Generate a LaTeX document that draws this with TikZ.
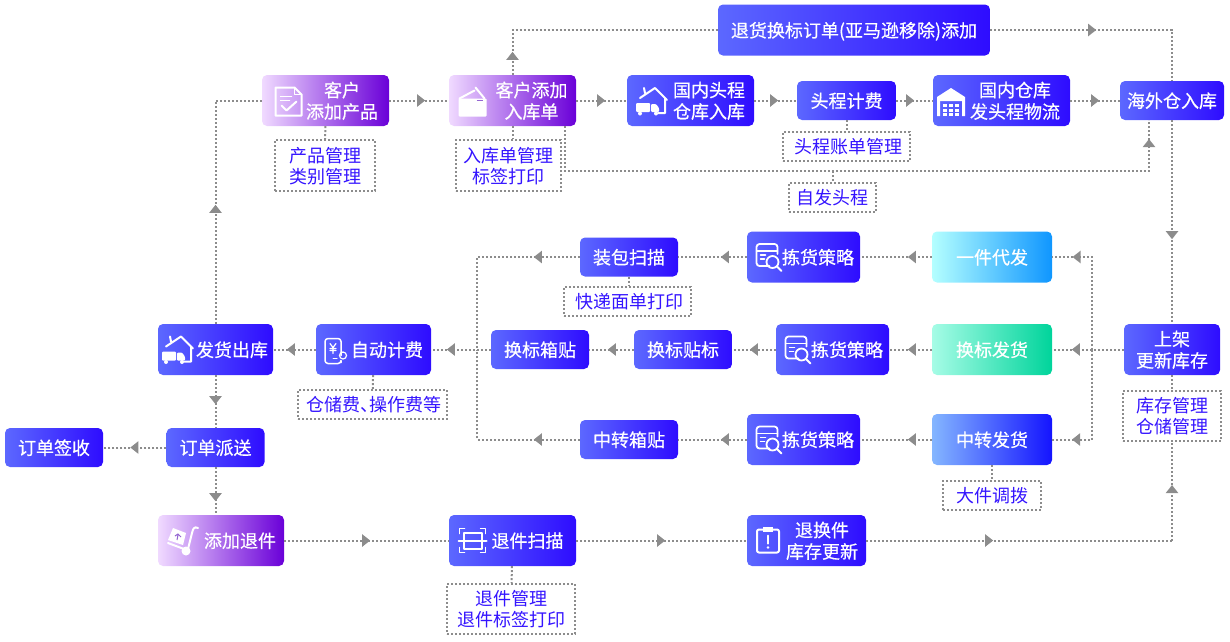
\documentclass[tikz,border=0pt]{standalone}
\usepackage{fontspec}
\setmainfont{Noto Sans CJK SC}
\newfontfamily\medfont[FakeBold=0.5]{Noto Sans CJK SC}
\usetikzlibrary{arrows.meta,decorations.markings}
\definecolor{flowgray}{HTML}{8C8C8C}
\definecolor{noteblue}{HTML}{3414FF}
\newcommand{\padtext}[2]{\hspace*{#1pt}\raisebox{-7pt}[0pt][0pt]{\begin{tabular}{@{}c@{}}#2\end{tabular}}}
\tikzset{
  flowbox/.style={rounded corners=5pt,text=white,inner sep=0pt,minimum height=39pt,font=\fontsize{18}{21}\selectfont\medfont,align=center},
  tallbox/.style={flowbox,minimum height=51pt},
  bluefill/.style={left color={rgb,255:red,92;green,104;blue,255},right color={rgb,255:red,46;green,12;blue,255}},
  purplefill/.style={left color={rgb,255:red,240;green,218;blue,255},right color={rgb,255:red,106;green,0;blue,216}},
  cyanfill/.style={left color={rgb,255:red,180;green,255;blue,255},right color={rgb,255:red,15;green,150;blue,255}},
  greenfill/.style={left color={rgb,255:red,166;green,252;blue,230},right color={rgb,255:red,0;green,212;blue,155}},
  relayfill/.style={left color={rgb,255:red,132;green,182;blue,255},right color={rgb,255:red,20;green,20;blue,255}},
  dots/.style={draw=flowgray,line width=2pt,dash pattern=on 2pt off 2pt},
  notebox/.style={dots,line width=2.4pt,inner sep=0pt,text=noteblue,align=center,font=\fontsize{18}{20}\selectfont},
  flow/.style={dots,postaction={decorate,decoration={markings,mark=at position #1 with {\arrow{Triangle[length=8pt,width=12pt]}}}}},
  iconline/.style={draw=white,line width=1.5pt,line join=round,line cap=round},
  pics/docicon/.style={code={
    \draw[iconline,line width=2pt] (-13,-14) -- (6,-14) -- (13,-7) -- (13,14) -- (-13,14) -- cycle;
    \draw[iconline] (6,-14) -- (6,-7) -- (13,-7);
    \draw[iconline] (-8,-5) -- (3,-5) (-8,-1) -- (1,-1);
    \draw[iconline,line width=2pt] (-7,4) -- (-2,9) -- (8,0);
  }},
  pics/cartonicon/.style={code={
    \fill[white,rounded corners=1pt] (-14,-3) -- (3,-3) -- (14,-3) -- (14,15) -- (-14,15) -- cycle;
    \draw[iconline,line width=2pt] (-13,-3) -- (2,-11) (3,-14) -- (12,-3);
    \draw[blue!40!violet!60,line width=1pt] (4,-1) -- (10,-1);
  }},
  pics/houseicon/.style={code={
    \draw[iconline,line width=2pt] (-11,-3) -- (4,-13) -- (16,-1) (-7,-13) -- (-6,-8) (14,-2) -- (14,12) -- (7,12);
    \fill[white,rounded corners=1pt] (-15,2) rectangle (-1,11);
    \fill[white,rounded corners=1pt] (0,3) -- (5,3) -- (8,7) -- (8,11) -- (0,11) -- cycle;
    \fill[white] (-11,12.5) circle (2pt) (5,12.5) circle (2pt);
  }},
  pics/depoticon/.style={code={
    \fill[white] (-14,-5) -- (0,-14) -- (14,-5) -- (14,-1) -- (-14,-1) -- cycle;
    \fill[white] (-14,-1) rectangle (-11,14) (11,-1) rectangle (14,14);
    \foreach \cx in {-8,-2,4} \foreach \cy in {2,6.5,11} \fill[white] (\cx,\cy) rectangle +(4,3.2);
  }},
  pics/pickicon/.style={code={
    \draw[iconline,rounded corners=3pt,line width=1.8pt] (1,9) -- (-12,9) -- (-12,-13) -- (9,-13) -- (9,-3);
    \draw[iconline] (-12,-6) -- (9,-6) (-8,-2) -- (-3,-2) (-8,2) -- (-4,2);
    \draw[iconline,line width=1.8pt] (4,5) circle (6pt) (9,10) -- (13,14);
  }},
  pics/yenicon/.style={code={
    \draw[iconline,rounded corners=3pt] (7,5) -- (7,-12) -- (-9,-12) -- (-9,13) -- (7,13) -- (7,12);
    \draw[iconline,line width=1pt] (-1,8) -- (3,8);
    \draw[iconline,line width=1.2pt] (-4,-7) -- (-1,-3) -- (2,-7) (-1,-3) -- (-1,3) (-4,-2) -- (2,-2) (-4,0) -- (2,0);
    \draw[iconline,line width=1.2pt] (9,5) circle (3.5pt);
  }},
  pics/trolleyicon/.style={code={
    \fill[white] (-10,-13) -- (3,-8) -- (0,4) -- (-15,-1) -- cycle;
    \draw[blue!40!violet!60,line width=1pt] (-6,-1) -- (-5,-6) (-8,-5) -- (-5,-7) -- (-2,-4);
    \draw[iconline,line width=2pt] (-15,2) -- (1,8);
    \draw[iconline,line width=2pt] (15,-13) .. controls (11,-15) and (10,-12) .. (9,-8) -- (5,8);
    \fill[white] (3,10) circle (4.5pt);
  }},
  pics/scanicon/.style={code={
    \draw[iconline] (-13,-7) -- (-13,-12) -- (-8,-12) (8,-12) -- (13,-12) -- (13,-7) (-13,7) -- (-13,12) -- (-8,12) (8,12) -- (13,12) -- (13,7);
    \draw[iconline,line width=2pt] (-9,-8) rectangle (9,8);
    \draw[iconline,line width=2pt] (-14,0) -- (14,0);
  }},
  pics/clipicon/.style={code={
    \draw[iconline,rounded corners=2pt,line width=2pt] (-11,-11) rectangle (11,12);
    \fill[white] (-5,-14) rectangle (5,-9);
    \draw[iconline,line width=2pt] (0,-5) -- (0,3);
    \fill[white] (0,7) circle (1.3pt);
  }},
}
\begin{document}
\begin{tikzpicture}[x=1pt,y=-1pt]
\useasboundingbox (0,0) rectangle (1230,641);
\pgfmathsetmacro\rowa{100.5}
\pgfmathsetmacro\rowb{257}
\pgfmathsetmacro\rowc{349.5}
\pgfmathsetmacro\rowd{439.5}
\pgfmathsetmacro\rowe{540.5}

% top row
\node[tallbox,bluefill,minimum width=272pt] (returns) at (854,30) {\padtext{0}{退货换标订单(亚马逊移除)添加}};
\node[tallbox,purplefill,minimum width=127pt] (addprod) at (325.5,\rowa) {\padtext{33}{客户\\添加产品}};
\node[tallbox,purplefill,minimum width=127pt] (inbound) at (512.5,\rowa) {\padtext{38}{客户添加\\入库单}};
\node[tallbox,bluefill,minimum width=127pt] (domestic) at (690.5,\rowa) {\padtext{37}{国内头程\\仓库入库}};
\node[flowbox,bluefill,minimum width=99pt] (firstfee) at (846.5,\rowa) {\padtext{0}{头程计费}};
\node[tallbox,bluefill,minimum width=137pt] (shipfirst) at (1001.5,\rowa) {\padtext{27}{国内仓库\\发头程物流}};
\node[flowbox,bluefill,minimum width=104pt] (overseas) at (1172,\rowa) {\padtext{0}{海外仓入库}};
\node[notebox,minimum width=100pt,minimum height=51pt] (noteprod) at (325,165.5) {\padtext{0}{产品管理\\类别管理}};
\node[notebox,minimum width=105pt,minimum height=51pt] (noteinbound) at (508.5,165.5) {\padtext{0}{入库单管理\\标签打印}};
\node[notebox,minimum width=127pt,minimum height=29pt] (notebill) at (846.5,146.5) {\padtext{4}{头程账单管理}};
\node[notebox,minimum width=87pt,minimum height=29pt] (noteself) at (832.5,197.5) {\padtext{0}{自发头程}};

% middle rows
\node[tallbox,cyanfill,minimum width=120pt] (single) at (992,\rowb) {\padtext{0}{一件代发}};
\node[tallbox,bluefill,minimum width=113pt] (pickA) at (803.5,\rowb) {\padtext{29}{拣货策略}};
\node[flowbox,bluefill,minimum width=98pt] (packscan) at (629,\rowb) {\padtext{0}{装包扫描}};
\node[notebox,minimum width=127pt,minimum height=29pt] (noteexpress) at (627.5,301.5) {\padtext{4}{快递面单打印}};
\node[tallbox,greenfill,minimum width=120pt] (relabel) at (992,\rowc) {\padtext{0}{换标发货}};
\node[tallbox,bluefill,minimum width=113pt] (pickB) at (832.5,\rowc) {\padtext{29}{拣货策略}};
\node[flowbox,bluefill,minimum width=98pt] (labelstick) at (683,\rowc) {\padtext{0}{换标贴标}};
\node[flowbox,bluefill,minimum width=98pt] (cartonstick) at (540,\rowc) {\padtext{0}{换标箱贴}};
\node[tallbox,bluefill,minimum width=115pt] (autofee) at (373.5,\rowc) {\padtext{27}{自动计费}};
\node[tallbox,bluefill,minimum width=115pt] (dispatch) at (215.5,\rowc) {\padtext{33}{发货出库}};
\node[notebox,minimum width=149pt,minimum height=29pt] (notefee) at (372.5,404.5) {\padtext{3}{仓储费\makebox[9pt][l]{、}操作费等}};
\node[tallbox,bluefill,minimum width=96pt] (shelf) at (1172,\rowc) {\padtext{0}{上架\\更新库存}};
\node[notebox,minimum width=98pt,minimum height=50pt] (notestock) at (1172,416) {\padtext{0}{库存管理\\仓储管理}};
\node[tallbox,relayfill,minimum width=120pt] (relay) at (992,\rowd) {\padtext{0}{中转发货}};
\node[tallbox,bluefill,minimum width=113pt] (pickC) at (803.5,\rowd) {\padtext{29}{拣货策略}};
\node[flowbox,bluefill,minimum width=98pt] (relaystick) at (629,\rowd) {\padtext{0}{中转箱贴}};
\node[notebox,minimum width=98pt,minimum height=29pt] (notelarge) at (992,495.5) {\padtext{0}{大件调拨}};

% left side and bottom row
\node[flowbox,bluefill,minimum width=98pt] (deliver) at (215.5,447.5) {\padtext{0}{订单派送}};
\node[flowbox,bluefill,minimum width=98pt] (signed) at (54,447.5) {\padtext{0}{订单签收}};
\node[tallbox,purplefill,minimum width=126pt] (addreturn) at (221,\rowe) {\padtext{38}{添加退件}};
\node[tallbox,bluefill,minimum width=127pt] (scanreturn) at (512.5,\rowe) {\padtext{30}{退件扫描}};
\node[tallbox,bluefill,minimum width=119pt] (restock) at (806.5,\rowe) {\padtext{31}{退换件\\库存更新}};
\node[notebox,minimum width=128pt,minimum height=50pt] (notereturn) at (511,609) {\padtext{0}{退件管理\\退件标签打印}};

% icons
\pic at (288.5,101.5) {docicon};
\pic at (472.5,101.5) {cartonicon};
\pic at (651,101) {houseicon};
\pic at (177,349.5) {houseicon};
\pic at (951,102) {depoticon};
\foreach \n in {pickA,pickB,pickC} {
  \pic at ([xshift=-35pt]\n.center) {pickicon};
}
\pic at (334,350.5) {yenicon};
\pic at (183,541) {trolleyicon};
\pic at (472.5,540.5) {scanicon};
\pic at (768,540.5) {clipicon};

% named corners
\coordinate (trunk) at (1092,\rowc);
\coordinate (selfstart) at (565,126);
\coordinate (selfmid) at (832.5,171);
\coordinate (selfend) at (1149,120);
\coordinate (merge) at (477,\rowc);
\coordinate (lowcorner) at (1172,\rowe);

% connectors
\draw[flow=36pt] (addprod) -- (inbound);
\draw[flow=29pt] (inbound) -- (domestic);
\draw[flow=24pt] (domestic) -- (firstfee);
\draw[flow=18pt] (firstfee) -- (shipfirst);
\draw[flow=29pt] (shipfirst) -- (overseas);
\draw[flow=23pt] (inbound.north) |- (returns.west);
\draw[flow=106pt] (returns.east) -| (overseas.north);
\draw[flow=661pt] (selfstart) |- (selfmid) -| (selfend);
\draw[flow=119pt] (overseas.south) -- (shelf.north);
\draw[flow=119pt] (dispatch.north) |- (addprod.west);
\draw[flow=52pt] (shelf) -- (relabel);
\draw[flow=112pt] (trunk) |- (single.east);
\draw[flow=110pt] (trunk) |- (relay.east);
\draw[flow=24pt] (single) -- (pickA);
\draw[flow=24pt] (relabel) -- (pickB);
\draw[flow=24pt] (relay) -- (pickC);
\draw[flow=26pt] (pickA) -- (packscan);
\draw[flow=26pt] (pickC) -- (relaystick);
\draw[flow=26pt] (pickB) -- (labelstick);
\draw[flow=26pt] (labelstick) -- (cartonstick);
\draw[flow=46pt] (packscan.west) -| (merge);
\draw[flow=46pt] (relaystick.west) -| (merge);
\draw[flow=44pt] (cartonstick) -- (autofee);
\draw[flow=29pt] (autofee) -- (dispatch);
\draw[flow=29pt] (dispatch) -- (deliver);
\draw[flow=36pt] (deliver) -- (signed);
\draw[flow=34pt] (deliver.south) -- (addreturn.north -| deliver.south);
\draw[flow=86pt] (addreturn) -- (scanreturn);
\draw[flow=89pt] (scanreturn) -- (restock);
\draw[flow=127pt] (restock.east) -- (lowcorner);
\draw[flow=55.5pt] (lowcorner) -- (notestock.south);

% stubs to the notes
\draw[dots] (addprod) -- (noteprod);
\draw[dots] (inbound.south) -- (noteinbound.north -| inbound.south);
\draw[dots] (firstfee) -- (notebill);
\draw[dots] (selfmid) -- (noteself);
\draw[dots] (packscan.south) -- (noteexpress.north -| packscan.south);
\draw[dots] (autofee) -- (notefee);
\draw[dots] (shelf) -- (notestock);
\draw[dots] (relay) -- (notelarge);
\draw[dots] (scanreturn) -- (notereturn);
\end{tikzpicture}
\end{document}
